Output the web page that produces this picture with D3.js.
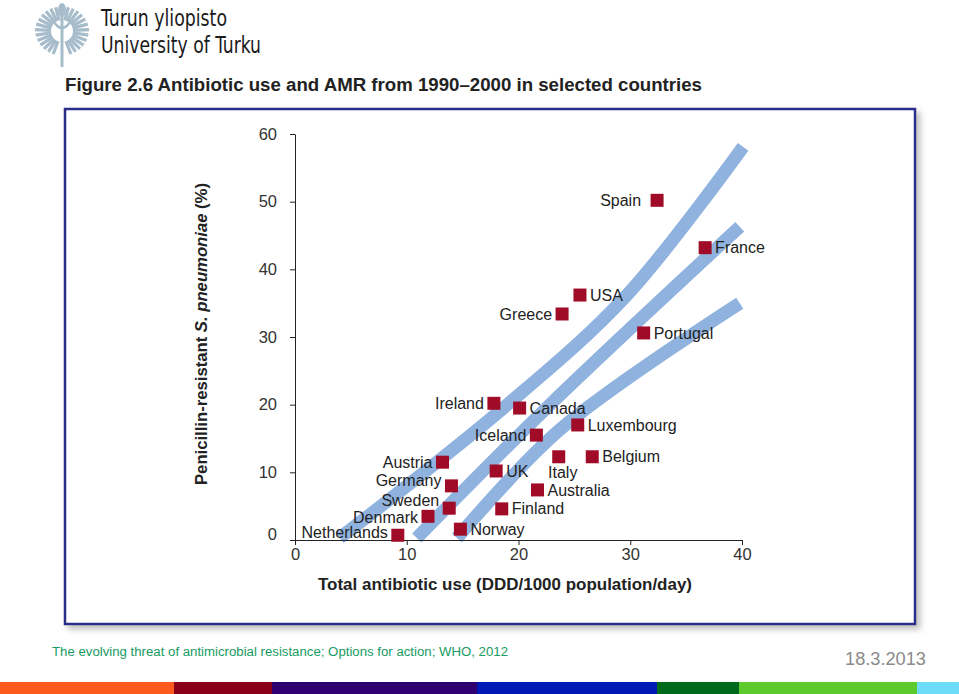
<!DOCTYPE html>
<html><head><meta charset="utf-8">
<script src="https://cdn.jsdelivr.net/npm/d3@7"></script>
<style>
html,body{margin:0;padding:0;background:#fff;}
svg{display:block;font-family:"Liberation Sans",Arial,Helvetica,sans-serif;}
</style></head>
<body>
<svg id="c" width="959" height="694"></svg>
<script>
// ---- data ----
const countries = ["Spain","France","USA","Greece","Portugal","Ireland","Canada","Luxembourg","Iceland","Austria","Italy","Belgium","UK","Germany","Australia","Sweden","Finland","Denmark","Norway","Netherlands"];
const antibioticUse = [32.4,36.7,25.5,23.9,31.2,17.8,20.1,25.3,21.6,13.2,23.6,26.6,18.0,14.0,21.7,13.8,18.5,11.9,14.8,9.2];
const resistance    = [50.2,43.2,36.2,33.4,30.6,20.2,19.5,17.0,15.5,11.5,12.3,12.3,10.2,8.0,7.4,4.7,4.6,3.5,1.6,0.7];
const labelSide     = ["l","r","r","l","r","l","r","r","l","l","b","r","r","l","r","lu","r","l","r","l"];
const xTicks = [0,10,20,30,40];
const yTicks = [0,10,20,30,40,50,60];
const bandHigh = [[4.0,0.3],[19.0,20.0],[29.7,36.2],[40.1,58.1]];
const bandMid  = [[10.9,0.3],[22.5,19.5],[39.8,46.3]];
const bandLow  = [[14.5,0.3],[23.7,16.3],[39.8,35.0]];
const footerSegments = [["#fb5a1c",0],["#8a0018",174],["#2f0070",272],["#0018b6",477],["#006a1c",657],["#5cca2c",739],["#6ddcf8",917]];
const titleText = "Figure 2.6 Antibiotic use and AMR from 1990\u20132000 in selected countries";
const xTitle = "Total antibiotic use (DDD/1000 population/day)";
const sourceText = "The evolving threat of antimicrobial resistance; Options for action; WHO, 2012";
const dateText = "18.3.2013";

const svg = d3.select("#c");
const defs = svg.append("defs");
const f = defs.append("filter").attr("id","sh").attr("x","-5%").attr("y","-5%").attr("width","112%").attr("height","115%");
f.append("feDropShadow").attr("dx",4).attr("dy",4).attr("stdDeviation",3).attr("flood-color","#888").attr("flood-opacity",0.55);

// ---- logo ----
const logo = svg.append("g").attr("stroke","#a7bccb").attr("fill","none");
const cx = 62, cy = 31;
for (let side of [-1,1]) {
  for (let i = 0; i < 13; i++) {
    const a = (15 + i*12) * Math.PI/180;
    const r1 = 11, r2 = 27 - Math.abs(i-6)*0.4;
    logo.append("line")
      .attr("x1", cx + side*Math.sin(a)*r1).attr("y1", cy - Math.cos(a)*r1)
      .attr("x2", cx + side*Math.sin(a)*r2).attr("y2", cy - Math.cos(a)*r2)
      .attr("stroke-width", 3.2);
  }
}
logo.append("line").attr("x1",cx).attr("y1",14).attr("x2",cx).attr("y2",67).attr("stroke-width",3);
logo.append("path").attr("d",`M${cx-8},22 Q${cx},34 ${cx+8},22`).attr("stroke-width",2.5);
logo.append("ellipse").attr("cx",cx).attr("cy",10).attr("rx",4).attr("ry",7).attr("fill","#a7bccb").attr("stroke","none");
svg.append("text").attr("x",101).attr("y",26).attr("font-family","'Liberation Sans Narrow','DejaVu Sans Condensed',sans-serif")
  .attr("font-size",23).attr("fill","#1a1a1a").attr("textLength",126).attr("lengthAdjust","spacingAndGlyphs").text("Turun yliopisto");
svg.append("text").attr("x",101).attr("y",53).attr("font-family","'Liberation Sans Narrow','DejaVu Sans Condensed',sans-serif")
  .attr("font-size",23).attr("fill","#1a1a1a").attr("textLength",160).attr("lengthAdjust","spacingAndGlyphs").text("University of Turku");

// ---- figure title ----
svg.append("text").attr("x",65).attr("y",91).attr("font-weight","bold").attr("font-size",17.5).attr("fill","#222")
  .attr("textLength",637).attr("lengthAdjust","spacingAndGlyphs").text(titleText);

// ---- frame ----
svg.append("rect").attr("x",65).attr("y",109).attr("width",850).attr("height",515)
  .attr("fill","#fff").attr("stroke","#2c2f8a").attr("stroke-width",2.5).attr("filter","url(#sh)");

// ---- scales ----
const x = d3.scaleLinear().domain([0,40]).range([295,742]);
const y = d3.scaleLinear().domain([0,60]).range([540,134]);

// bands
const line = d3.line().x(d=>x(d[0])).y(d=>y(d[1])).curve(d3.curveCatmullRom.alpha(0.5));
svg.append("g").selectAll("path").data([bandHigh,bandMid,bandLow]).join("path")
  .attr("d",line).attr("fill","none").attr("stroke","#8fb2de").attr("stroke-width",13).attr("stroke-linecap","butt");

// axes
const gx = svg.append("g").attr("transform","translate(0,540)")
  .call(d3.axisBottom(x).tickValues(xTicks).tickSize(5).tickSizeOuter(0).tickPadding(3));
const gy = svg.append("g").attr("transform","translate(295,0)")
  .call(d3.axisLeft(y).tickValues(yTicks).tickSize(5).tickSizeOuter(0).tickPadding(13));
[gx,gy].forEach(g=>{
  g.select(".domain").attr("stroke","#222");
  g.selectAll(".tick line").attr("stroke","#222");
  g.selectAll("text").attr("font-size",16.5).attr("fill","#333").attr("font-family","'Liberation Sans',Arial,sans-serif");
});
gy.selectAll(".tick").filter(d=>d===0).select("text").attr("y",-6);

// axis titles
svg.append("text").attr("x",318).attr("y",590).attr("font-weight","bold").attr("font-size",17).attr("fill","#222")
  .attr("textLength",374).attr("lengthAdjust","spacingAndGlyphs").text(xTitle);
const yt = svg.append("text").attr("transform","translate(207,334) rotate(-90)").attr("text-anchor","middle")
  .attr("font-weight","bold").attr("font-size",16.5).attr("fill","#222").attr("textLength",302).attr("lengthAdjust","spacingAndGlyphs");
yt.append("tspan").text("Penicillin-resistant ");
yt.append("tspan").attr("font-style","italic").text("S. pneumoniae");
yt.append("tspan").text(" (%)");

// points
const pts = countries.map((c,i)=>({c, u:antibioticUse[i], r:resistance[i], s:labelSide[i]}));
svg.append("g").selectAll("rect").data(pts).join("rect")
  .attr("x",d=>x(d.u)-6.5).attr("y",d=>y(d.r)-6.5).attr("width",13).attr("height",13).attr("fill","#a00c28");
const nudge = {Netherlands:-3, Germany:-5, Denmark:1};
svg.append("g").selectAll("text").data(pts).join("text")
  .attr("font-size",16).attr("fill","#222")
  .attr("x",d=> d.s==="r" ? x(d.u)+10 : d.s==="b" ? x(d.u)+4 : x(d.u)-(d.c==="Spain"?16:10))
  .attr("y",d=> d.s==="b" ? y(d.r)+16 : d.s==="lu" ? y(d.r)-8 : y(d.r) + (nudge[d.c]||0))
  .attr("dy","0.35em")
  .attr("text-anchor",d=> d.s==="r" ? "start" : d.s==="b" ? "middle" : "end")
  .text(d=>d.c);

// footer
svg.append("text").attr("x",52).attr("y",656).attr("font-size",12.5).attr("fill","#169b62")
  .attr("font-family","'Liberation Sans Narrow','Liberation Sans',sans-serif")
  .attr("textLength",456).attr("lengthAdjust","spacingAndGlyphs").text(sourceText);
svg.append("text").attr("x",845).attr("y",665).attr("font-size",18).attr("fill","#8a8a8a")
  .attr("textLength",81).attr("lengthAdjust","spacingAndGlyphs").text(dateText);
svg.append("g").selectAll("rect").data(footerSegments).join("rect")
  .attr("x",(d)=>d[1]).attr("y",682)
  .attr("width",(d,i)=> (i<footerSegments.length-1 ? footerSegments[i+1][1] : 959) - d[1])
  .attr("height",12).attr("fill",d=>d[0]);
</script>
</body></html>
